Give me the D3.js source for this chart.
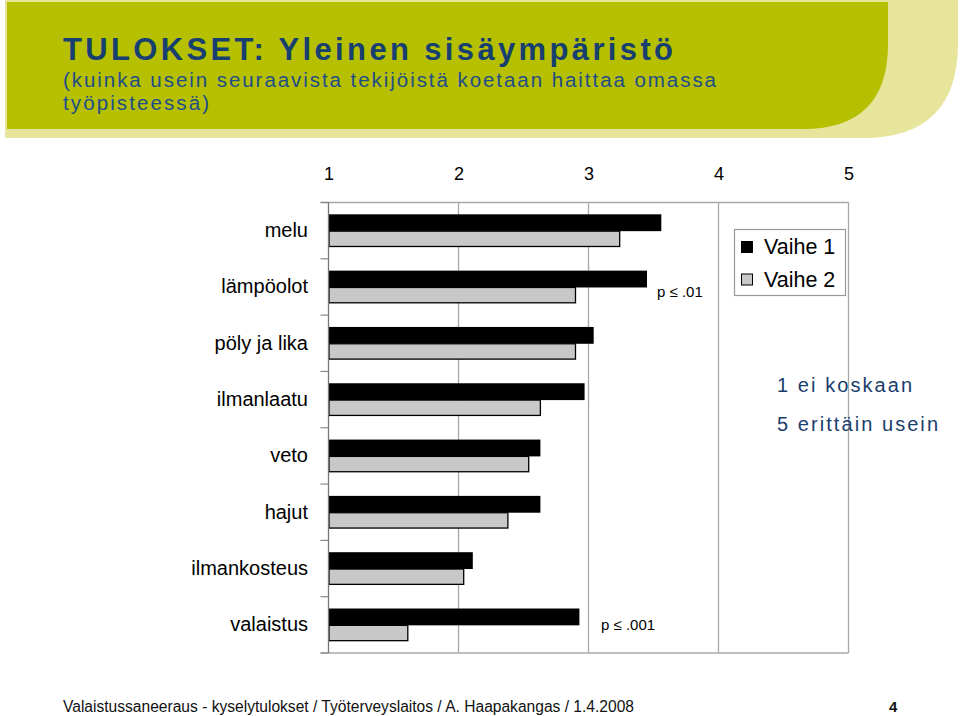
<!DOCTYPE html>
<html>
<head>
<meta charset="utf-8">
<script src="https://cdn.jsdelivr.net/npm/d3@7"></script>
<style>
  html, body { margin: 0; padding: 0; background: #ffffff; }
  svg { display: block; }
  text { font-family: "Liberation Sans", Arial, sans-serif; }
</style>
</head>
<body>
<svg id="chart" width="960" height="716"></svg>
<script>
// ---- data ----
const categories = ["melu", "lämpöolot", "pöly ja lika", "ilmanlaatu", "veto", "hajut", "ilmankosteus", "valaistus"];
const vaihe1 = [3.56, 3.45, 3.04, 2.97, 2.63, 2.63, 2.11, 2.93];
const vaihe2 = [3.24, 2.90, 2.90, 2.63, 2.54, 2.38, 2.04, 1.61];
const seriesNames = ["Vaihe 1", "Vaihe 2"];
const tickValues = [1, 2, 3, 4, 5];
const annotations = [
  { category: "lämpöolot", text: "p ≤ .01" },
  { category: "valaistus", text: "p ≤ .001" }
];
const titleText = "TULOKSET: Yleinen sisäympäristö";
const subtitleLines = ["(kuinka usein seuraavista tekijöistä koetaan haittaa omassa", "työpisteessä)"];
const scaleNotes = ["1 ei koskaan", "5 erittäin usein"];
const footerText = "Valaistussaneeraus - kyselytulokset / Työterveyslaitos / A. Haapakangas / 1.4.2008";
const pageNumber = "4";

// ---- drawing ----
const svg = d3.select("#chart");
const navy = "#173f70";

// banner
function roundedBR(x0, y0, x1, y1, r) {
  const p = d3.path();
  p.moveTo(x0, y0);
  p.lineTo(x1, y0);
  p.lineTo(x1, y1 - r);
  p.quadraticCurveTo(x1, y1, x1 - r, y1);
  p.lineTo(x0, y1);
  p.closePath();
  return p.toString();
}
svg.append("path").attr("d", roundedBR(5, 0, 958, 138, 95)).attr("fill", "#e7e49c");
svg.append("path").attr("d", roundedBR(7, 2, 888, 129, 85)).attr("fill", "#b6bf00");

svg.append("text").attr("x", 63).attr("y", 60)
  .attr("font-weight", "bold").attr("font-size", 31).attr("fill", navy)
  .attr("textLength", 610).attr("lengthAdjust", "spacing")
  .text(titleText);
subtitleLines.forEach((s, i) => {
  svg.append("text").attr("x", 63).attr("y", 87 + i * 23)
    .attr("font-size", 20.5).attr("fill", "#1f4d88")
    .attr("textLength", i === 0 ? 653 : 146).attr("lengthAdjust", "spacing")
    .text(s);
});

// scales
const x = d3.scaleLinear().domain([1, 5]).range([328.5, 848.5]);
const y = d3.scaleBand().domain(categories).range([202.5, 653]).paddingInner(0.42).paddingOuter(0.21);
const sub = d3.scaleBand().domain(seriesNames).range([0, y.bandwidth()]);

const g = svg.append("g");

// gridlines & frame
g.append("g").selectAll("line").data(tickValues.slice(1)).join("line")
  .attr("x1", d => x(d)).attr("x2", d => x(d))
  .attr("y1", 202.5).attr("y2", 653)
  .attr("stroke", "#a8a8a8").attr("stroke-width", 1.3);
g.append("line").attr("x1", 320.5).attr("x2", 848.5).attr("y1", 202.5).attr("y2", 202.5)
  .attr("stroke", "#a8a8a8").attr("stroke-width", 1.3);
g.append("line").attr("x1", 320.5).attr("x2", 848.5).attr("y1", 653).attr("y2", 653)
  .attr("stroke", "#a8a8a8").attr("stroke-width", 1.3);

// category boundary ticks
const boundaries = d3.range(categories.length + 1).map(i => 202.5 + i * (653 - 202.5) / categories.length);
g.append("g").selectAll("line").data(boundaries).join("line")
  .attr("x1", 320.5).attr("x2", 328.5).attr("y1", d => d).attr("y2", d => d)
  .attr("stroke", "#888").attr("stroke-width", 1.2);

// top tick labels via axis
const axisTop = d3.axisTop(x).tickValues(tickValues).tickSize(0).tickPadding(0).tickFormat(d3.format("d"));
const ax = svg.append("g").attr("transform", "translate(0,180)").call(axisTop);
ax.select(".domain").remove();
ax.selectAll("text").attr("font-size", 18).attr("fill", "#000")
  .attr("font-family", "'Liberation Sans', Arial, sans-serif");

// category labels via axis
const axisLeft = d3.axisLeft(y).tickSize(0).tickPadding(0);
const ay = svg.append("g").attr("transform", "translate(308,0)").call(axisLeft);
ay.select(".domain").remove();
ay.selectAll("text").attr("font-size", 20).attr("fill", "#000")
  .attr("font-family", "'Liberation Sans', Arial, sans-serif");

// bars
const rows = categories.map((c, i) => ({ c, v: [vaihe1[i], vaihe2[i]] }));
const groups = g.append("g").selectAll("g").data(rows).join("g")
  .attr("transform", d => `translate(0,${y(d.c)})`);
groups.append("rect")
  .attr("x", x(1)).attr("y", sub("Vaihe 1"))
  .attr("width", d => x(d.v[0]) - x(1)).attr("height", sub.bandwidth() + 0.5)
  .attr("fill", "#000");
groups.append("rect")
  .attr("x", x(1) + 0.5).attr("y", sub("Vaihe 2") + 0.5)
  .attr("width", d => x(d.v[1]) - x(1) - 0.5).attr("height", sub.bandwidth() - 1)
  .attr("fill", "#c8c8c8").attr("stroke", "#000").attr("stroke-width", 1.3);

// axis line (on top)
g.append("line").attr("x1", 328.5).attr("x2", 328.5).attr("y1", 202.5).attr("y2", 653)
  .attr("stroke", "#777").attr("stroke-width", 1.3);

// significance annotations
const annOffsets = { "lämpöolot": { x: 657, dy: 26 }, "valaistus": { x: 601, dy: 21 } };
svg.append("g").selectAll("text").data(annotations).join("text")
  .attr("x", d => annOffsets[d.category].x)
  .attr("y", d => y(d.category) + annOffsets[d.category].dy)
  .attr("font-size", 15).attr("fill", "#000")
  .text(d => d.text);

// legend
const lg = svg.append("g");
lg.append("rect").attr("x", 734.5).attr("y", 229.5).attr("width", 111).attr("height", 66)
  .attr("fill", "#fff").attr("stroke", "#999").attr("stroke-width", 1.2);
const legendFill = ["#000", "#c8c8c8"];
seriesNames.forEach((s, i) => {
  lg.append("rect").attr("x", 741.5).attr("y", 241.5 + i * 32.5).attr("width", 11).attr("height", 11)
    .attr("fill", legendFill[i]).attr("stroke", "#000").attr("stroke-width", 1);
  lg.append("text").attr("x", 764).attr("y", 254 + i * 32.5)
    .attr("font-size", 21.5).attr("fill", "#000").text(s);
});

// scale notes
scaleNotes.forEach((s, i) => {
  svg.append("text").attr("x", 777).attr("y", 392 + i * 39)
    .attr("font-size", 20).attr("fill", "#1a3d6d")
    .attr("textLength", i === 0 ? 135 : 161).attr("lengthAdjust", "spacing")
    .text(s);
});

// footer
svg.append("text").attr("x", 63).attr("y", 712)
  .attr("font-size", 16).attr("fill", "#111")
  .attr("textLength", 571).attr("lengthAdjust", "spacingAndGlyphs")
  .text(footerText);
svg.append("text").attr("x", 889).attr("y", 712)
  .attr("font-size", 15).attr("font-weight", "bold").attr("fill", "#111")
  .text(pageNumber);
</script>
</body>
</html>
